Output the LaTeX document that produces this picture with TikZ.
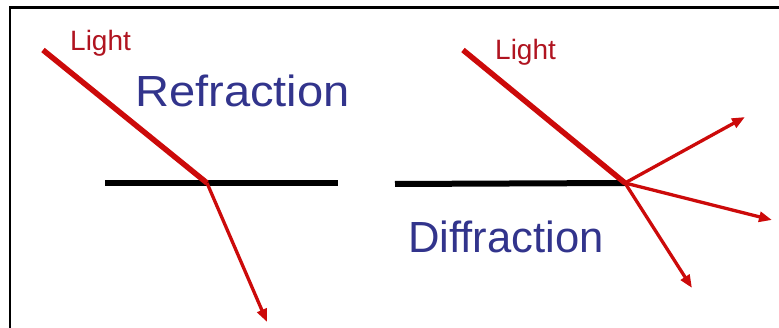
\documentclass[tikz,border=0pt]{standalone}
\usepackage{fontspec}
\setmainfont{Liberation Sans}
\usetikzlibrary{arrows.meta}
\definecolor{ray}{RGB}{204,10,10}
\definecolor{lbl}{RGB}{176,20,32}
\definecolor{ttl}{RGB}{50,52,140}
\tikzset{
  surface/.style={line width=6pt,black},
  beam/.style={line width=5.5pt,ray},
  outray/.style={line width=3.3pt,ray,-{Triangle[length=13pt,width=10pt]}},
  lighttxt/.style={lbl,font=\fontsize{28}{32}\selectfont,anchor=base west,inner sep=0pt},
  titletxt/.style={ttl,font=\fontsize{43.6}{50}\selectfont,anchor=base west,inner sep=0pt},
}
\begin{document}
\begin{tikzpicture}[x=1pt,y=-1pt]
\useasboundingbox (0,0) rectangle (779,328);
\coordinate (bl) at (10,328);
\coordinate (tl) at (10,7.5);
\coordinate (tr) at (779,7.5);
\draw[line width=2.5pt,black] (bl) -- (tl) -- (tr);
% Refraction
\coordinate (s1a) at (105,183.5);
\coordinate (s1b) at (338,183.5);
\coordinate (r1in) at (43,50);
\coordinate (r1p) at (207,183);
\coordinate (r1out) at (267,322);
\draw[surface] (s1a) -- (s1b);
\draw[beam] (r1in) -- (r1p);
\draw[outray] (r1p) -- (r1out);
\node[lighttxt] (l1) at (70,51) {Light};
\node[titletxt,xscale=1.08] (t1) at (135,107) {Refraction};
% Diffraction
\coordinate (s2a) at (395,184);
\coordinate (r2p) at (625,183);
\coordinate (r2in) at (463,50);
\coordinate (d1) at (745,117);
\coordinate (d2) at (772,220);
\coordinate (d3) at (692,288);
\draw[surface] (s2a) -- (r2p);
\draw[beam] (r2in) -- (r2p);
\draw[outray] (r2p) -- (d1);
\draw[outray] (r2p) -- (d2);
\draw[outray] (r2p) -- (d3);
\node[lighttxt] (l2) at (495,60) {Light};
\node[titletxt] (t2) at (408,253) {Diffraction};
\end{tikzpicture}
\end{document}
